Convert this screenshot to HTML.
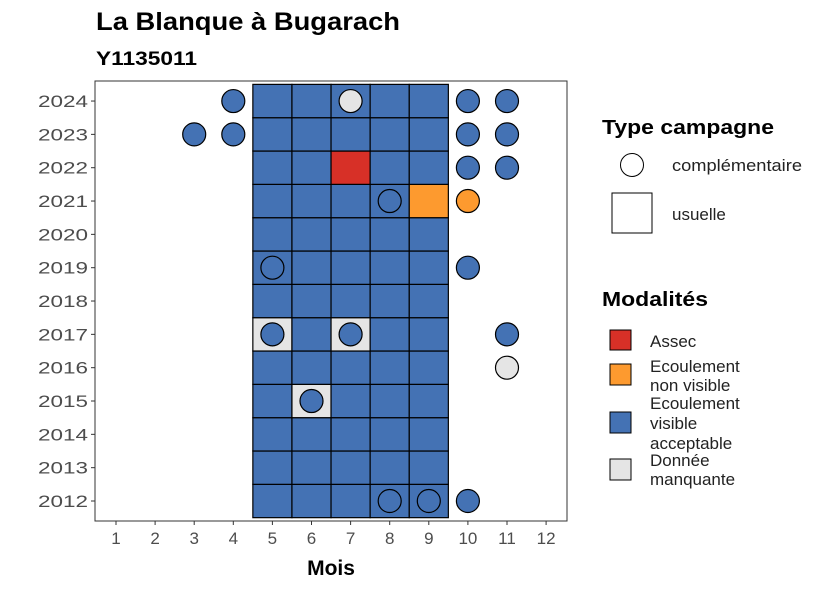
<!DOCTYPE html>
<html><head><meta charset="utf-8"><style>
body{margin:0;background:#fff}
svg text{font-family:"Liberation Sans",sans-serif}
</style></head><body>
<svg id="chart" width="826" height="590" xmlns="http://www.w3.org/2000/svg">
<text x="96" y="30" font-size="25" font-weight="bold" fill="#000" textLength="304" lengthAdjust="spacingAndGlyphs">La Blanque à Bugarach</text>
<text x="96" y="65" font-size="19" font-weight="bold" fill="#000" textLength="101" lengthAdjust="spacingAndGlyphs">Y1135011</text>
<rect x="95" y="81" width="472" height="440" fill="#fff"/>
<g id="tiles"></g><g id="pts"></g>
<rect x="95" y="81" width="472" height="440" fill="none" stroke="#333" stroke-width="1"/>
<g id="axes"></g>
<text x="331" y="575" font-size="21" font-weight="bold" text-anchor="middle">Mois</text>
<g>
<text x="602" y="134" font-size="20" font-weight="bold" textLength="172" lengthAdjust="spacingAndGlyphs">Type campagne</text>
<circle cx="632" cy="165" r="11.5" fill="#fff" stroke="#000"/>
<text x="672" y="171" font-size="17" fill="#222" textLength="130" lengthAdjust="spacingAndGlyphs">complémentaire</text>
<rect x="612" y="193" width="40" height="40" fill="#fff" stroke="#000"/>
<text x="672" y="220" font-size="17" fill="#222">usuelle</text>
</g>
<g>
<text x="602" y="306" font-size="20" font-weight="bold" textLength="106" lengthAdjust="spacingAndGlyphs">Modalités</text>
<rect x="610" y="330" width="21" height="20" fill="#D73027" stroke="#000"/>
<text x="650" y="347" font-size="17" fill="#222">Assec</text>
<rect x="610" y="364" width="21" height="21" fill="#FD9A2F" stroke="#000"/>
<text x="650" y="372" font-size="17" fill="#222">Ecoulement</text>
<text x="650" y="391" font-size="17" fill="#222">non visible</text>
<rect x="610" y="412" width="21" height="21" fill="#4472B4" stroke="#000"/>
<text x="650" y="409" font-size="17" fill="#222">Ecoulement</text>
<text x="650" y="429" font-size="17" fill="#222">visible</text>
<text x="650" y="449" font-size="17" fill="#222">acceptable</text>
<rect x="610" y="459" width="21" height="21" fill="#E5E5E5" stroke="#000"/>
<text x="650" y="466" font-size="17" fill="#222">Donnée</text>
<text x="650" y="485" font-size="17" fill="#222">manquante</text>
</g>
</svg>
<script>
const months=[1,2,3,4,5,6,7,8,9,10,11,12];
const years=[2012,2013,2014,2015,2016,2017,2018,2019,2020,2021,2022,2023,2024];
const tileYears=[2012,2013,2014,2015,2016,2017,2018,2019,2020,2021,2022,2023,2024];
const tileMonths=[5,6,7,8,9];
const tileExceptions=[[2022,7,"Assec"],[2021,9,"NonVisible"],[2017,5,"Manquante"],[2017,7,"Manquante"],[2015,6,"Manquante"]];
const points=[[2024,4,"Visible"],[2024,7,"Manquante"],[2024,10,"Visible"],[2024,11,"Visible"],
[2023,3,"Visible"],[2023,4,"Visible"],[2023,10,"Visible"],[2023,11,"Visible"],
[2022,10,"Visible"],[2022,11,"Visible"],[2021,8,"Visible"],[2021,10,"NonVisible"],
[2019,5,"Visible"],[2019,10,"Visible"],[2017,5,"Visible"],[2017,7,"Visible"],[2017,11,"Visible"],
[2016,11,"Manquante"],[2015,6,"Visible"],[2012,8,"Visible"],[2012,9,"Visible"],[2012,10,"Visible"]];
const colors={Assec:"#D73027",NonVisible:"#FD9A2F",Visible:"#4472B4",Manquante:"#E5E5E5"};
const NS="http://www.w3.org/2000/svg";
const dx=39.1, dy=33.33;
const xs=m=>116+(m-1)*dx;
const ys=y=>501-(y-2012)*dy;
function mk(t,a,p){const e=document.createElementNS(NS,t);for(const k in a)e.setAttribute(k,a[k]);p.appendChild(e);return e;}
const tg=document.getElementById('tiles');
tileYears.forEach(y=>tileMonths.forEach(m=>{
 const ex=tileExceptions.find(e=>e[0]===y&&e[1]===m);
 const r=mk('rect',{x:xs(m)-dx/2,y:ys(y)-dy/2,width:dx,height:dy,fill:colors[ex?ex[2]:"Visible"],stroke:"#000","stroke-width":1.2},tg);
 
 
}));
const pg=document.getElementById('pts');
points.forEach(p=>{
 const c=mk('circle',{cx:xs(p[1]),cy:ys(p[0]),r:11.5,fill:colors[p[2]],stroke:"#000","stroke-width":1.2},pg);
 
 
});
const ag=document.getElementById('axes');
months.forEach(m=>{
 mk('line',{x1:xs(m),x2:xs(m),y1:521,y2:525,stroke:"#333"},ag);
 const t=mk('text',{x:xs(m),y:544,"font-size":17,fill:"#4d4d4d","text-anchor":"middle"},ag);
 t.textContent=m;
 
 
});
years.forEach(y=>{
 mk('line',{x1:91,x2:95,y1:ys(y),y2:ys(y),stroke:"#333"},ag);
 const t=mk('text',{x:38,y:ys(y)+6,"font-size":17,fill:"#4d4d4d",textLength:50,lengthAdjust:"spacingAndGlyphs"},ag);
 t.textContent=y;
 
 
});
</script>
</body></html>
